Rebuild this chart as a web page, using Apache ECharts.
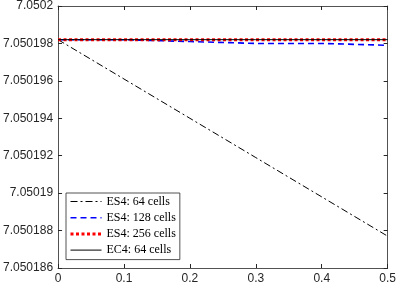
<!DOCTYPE html>
<html><head><meta charset="utf-8">
<script src="https://cdn.jsdelivr.net/npm/echarts@6/dist/echarts.min.js"></script>
<style>html,body{margin:0;padding:0;background:#fff}#c{width:399px;height:286px}</style>
</head><body><div id="c"></div>
<script>
const xVals = [0, 0.1, 0.2, 0.3, 0.4, 0.5];
const es4_64 = [7.0501982, 7.0501961, 7.0501940, 7.0501919, 7.0501898, 7.0501877];
const es4_128 = [7.0501982, 7.0501982, 7.0501981, 7.0501980, 7.0501980, 7.0501979];
const es4_256 = [7.0501982, 7.0501982, 7.0501982, 7.0501982, 7.0501982, 7.0501982];
const ec4_64 = [7.0501982, 7.0501982, 7.0501982, 7.0501982, 7.0501982, 7.0501982];
const names = ['ES4: 64 cells', 'ES4: 128 cells', 'ES4: 256 cells', 'EC4: 64 cells'];
const yMin = 7.050186, yMax = 7.0502, yStep = 0.000002;
const xMin = 0, xMax = 0.5, xStep = 0.1;

const pair = a => xVals.map((x, i) => [x, a[i]]);
const fmtY = v => parseFloat(v.toFixed(6)).toString();
const fmtX = v => parseFloat(v.toFixed(2)).toString();
const axisCol = '#262626';
const styles = [
  {color: '#000', width: 1, type: [7, 3, 2, 3]},
  {color: '#0000ff', width: 1.6, type: [6, 4]},
  {color: '#ff0000', width: 3, type: [3, 2.5]},
  {color: '#000', width: 1, type: 'solid'}
];
const chart = echarts.init(document.getElementById('c'));
const baseX = {type: 'value', min: xMin, max: xMax, interval: xStep,
  axisLine: {show: true, onZero: false, lineStyle: {color: axisCol, width: 0.8}},
  axisTick: {show: true, inside: true, length: 4, lineStyle: {color: axisCol}},
  splitLine: {show: false}};
const baseY = {type: 'value', min: yMin, max: yMax, interval: yStep, scale: true,
  axisLine: {show: true, onZero: false, lineStyle: {color: axisCol, width: 0.8}},
  axisTick: {show: true, inside: true, length: 4, lineStyle: {color: axisCol}},
  splitLine: {show: false}};
chart.setOption({
  animation: false,
  grid: {left: 56, right: 10, top: 4, bottom: 18, containLabel: false},
  xAxis: [
    Object.assign({}, baseX, {position: 'bottom', axisLabel: {color: axisCol, fontSize: 12, fontFamily: 'Liberation Sans', margin: 5, formatter: fmtX}}),
    Object.assign({}, baseX, {position: 'top', axisLabel: {show: false}})
  ],
  yAxis: [
    Object.assign({}, baseY, {position: 'left', axisLabel: {color: axisCol, fontSize: 12, fontFamily: 'Liberation Sans', margin: 5, formatter: fmtY}}),
    Object.assign({}, baseY, {position: 'right', axisLabel: {show: false}})
  ],
  legend: {
    orient: 'vertical', left: 66, top: 193, padding: [2.5, 4, 3.5, 3],
    itemGap: 4.2, itemWidth: 31, itemHeight: 13,
    itemStyle: {opacity: 0},
    backgroundColor: '#fff', borderColor: '#262626', borderWidth: 0.8,
    textStyle: {fontFamily: 'Liberation Serif', fontSize: 12, color: '#000'},
    data: names.map((n, i) => ({name: n, lineStyle: Object.assign({}, styles[i])}))
  },
  series: names.map((n, i) => ({
    name: n, type: 'line', data: pair([es4_64, es4_128, es4_256, ec4_64][i]), symbol: 'none',
    lineStyle: styles[i], itemStyle: {color: styles[i].color}
  }))
});
</script></body></html>
